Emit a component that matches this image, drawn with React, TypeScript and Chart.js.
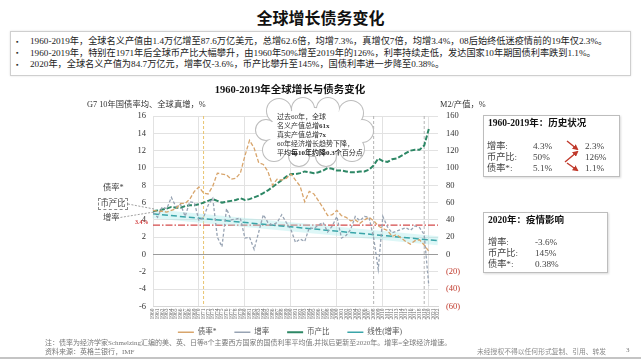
import React, { useEffect, useRef } from 'react';
import { Chart, registerables } from 'chart.js';

Chart.register(...registerables);

// ---------- data ----------
const years = [
  '1960', '1961', '1962', '1963', '1964', '1965', '1966', '1967', '1968', '1969',
  '1970', '1971', '1972', '1973', '1974', '1975', '1976', '1977', '1978', '1979',
  '1980', '1981', '1982', '1983', '1984', '1985', '1986', '1987', '1988', '1989',
  '1990', '1991', '1992', '1993', '1994', '1995', '1996', '1997', '1998', '1999',
  '2000', '2001', '2002', '2003', '2004', '2005', '2006', '2007', '2008', '2009',
  '2010', '2011', '2012', '2013', '2014', '2015', '2016', '2017', '2018', '2019',
  '2020', '2021', '2022',
];

// G7 10-year government bond yield average, %
const bondYield = [
  5.1, 5.0, 5.0, 4.9, 5.1, 5.3, 5.9, 5.9, 6.4, 7.3,
  7.8, 7.1, 7.0, 7.9, 9.4, 9.3, 9.2, 8.7, 8.8, 9.4,
  11.4, 13.2, 12.3, 10.6, 10.4, 9.6, 8.0, 8.7, 8.6, 8.8,
  9.3, 8.6, 7.9, 6.1, 7.3, 7.0, 6.2, 5.4, 4.5, 4.6,
  5.1, 4.5, 4.3, 3.9, 4.0, 3.6, 4.0, 4.3, 3.9, 3.3,
  3.0, 2.8, 2.1, 2.3, 1.9, 1.5, 1.2, 1.6, 1.7, 1.1,
  0.38,
];

// global real GDP growth, %
const growth = [
  4.9, 4.3, 5.5, 5.3, 6.6, 5.5, 5.8, 4.4, 6.1, 6.0,
  3.9, 4.3, 5.7, 6.5, 2.0, 0.9, 5.3, 4.0, 4.1, 4.2,
  1.9, 2.0, 0.6, 2.6, 4.6, 3.7, 3.4, 3.7, 4.6, 3.7,
  2.9, 1.4, 1.8, 1.5, 3.1, 3.0, 3.4, 3.7, 2.6, 3.3,
  4.4, 1.9, 2.2, 2.9, 4.4, 3.9, 4.4, 4.3, 1.9, -1.7,
  4.4, 3.2, 2.5, 2.7, 2.9, 3.1, 2.8, 3.3, 3.1, 2.3,
  -3.6,
];

// M2 / GDP, %
const m2Ratio = [
  50, 51, 52, 53, 55, 54, 54, 56, 57, 57,
  58, 60, 62, 64, 62, 60, 61, 62, 63, 65,
  63, 64, 66, 68, 71, 74, 78, 82, 86, 90,
  93, 93, 94, 96, 95, 94, 95, 97, 100, 99,
  97, 97, 96, 95, 95, 96, 96, 98, 103, 111,
  108, 107, 110, 111, 114, 117, 120, 121, 121, 126,
  145,
];

// linear trend of growth (endpoints)
const growthTrend = [{ x: '1960', y: 4.7 }, { x: '2022', y: 1.6 }];
// 1960-2020 average growth
const growthMean = [{ x: '1960', y: 3.4 }, { x: '2022', y: 3.4 }];

const markerYears = ['1971', '2008', '2019'];
const seriesNames = ['债率*', '增率', '币产比', '线性(增率)'];

const bullets = [
  '1960-2019年，全球名义产值由1.4万亿增至87.6万亿美元，总增62.6倍，均增7.3%，真增仅7倍，均增3.4%，08后始终低迷疫情前的19年仅2.3%。',
  '1960-2019年，特别在1971年后全球币产比大幅攀升，由1960年50%增至2019年的126%，利率持续走低，发达国家10年期国债利率跌到1.1%。',
  '2020年，全球名义产值为84.7万亿元，增率仅-3.6%，币产比攀升至145%，国债利率进一步降至0.38%。',
];

const histRows = [
  ['增率:', '4.3%', '2.3%'],
  ['币产比:', '50%', '126%'],
  ['债率*:', '5.1%', '1.1%'],
];
const covidRows = [
  ['增率:', '-3.6%'],
  ['币产比:', '145%'],
  ['债率*:', '0.38%'],
];

const FONT = "'Liberation Serif', 'Noto Sans CJK SC', serif";

const markerPlugin = {
  id: 'markerLines',
  beforeDatasetsDraw(chart: any) {
    const { ctx, chartArea, scales } = chart;
    markerYears.forEach((yr, i) => {
      const x = scales.x.getPixelForValue(years.indexOf(yr));
      ctx.save();
      ctx.strokeStyle = i === 0 ? '#e9c46f' : '#b4b4b4';
      ctx.lineWidth = 1;
      ctx.setLineDash([3, 2]);
      ctx.beginPath();
      ctx.moveTo(x, chartArea.top);
      ctx.lineTo(x, chartArea.bottom);
      ctx.stroke();
      ctx.restore();
    });
  },
};

function Txt(props: { x: number; y: number; size: number; children: any; style?: any }) {
  const { x, y, size, children, style } = props;
  return (
    <div
      style={{
        position: 'absolute',
        left: x,
        top: y - size * 0.6,
        fontSize: size,
        lineHeight: `${size * 1.2}px`,
        whiteSpace: 'nowrap',
        ...style,
      }}
    >
      {children}
    </div>
  );
}

export default function App() {
  const ref = useRef<HTMLCanvasElement>(null);

  useEffect(() => {
    const chart = new Chart(ref.current as HTMLCanvasElement, {
      type: 'line',
      data: {
        labels: years,
        datasets: [
          {
            label: seriesNames[0],
            data: bondYield,
            yAxisID: 'y',
            borderColor: '#d8a56c',
            borderWidth: 1.3,
            borderDash: [4, 2],
            pointRadius: 0,
            tension: 0,
          },
          {
            label: seriesNames[1],
            data: growth,
            yAxisID: 'y',
            borderColor: '#97a3b3',
            borderWidth: 1.3,
            borderDash: [3, 2],
            pointRadius: 0,
            tension: 0,
          },
          {
            label: seriesNames[2],
            data: m2Ratio,
            yAxisID: 'y2',
            borderColor: '#2d8765',
            borderWidth: 2,
            borderDash: [5, 2],
            pointRadius: 0,
            tension: 0,
          },
          {
            label: seriesNames[3],
            data: growthTrend as any,
            yAxisID: 'y',
            borderColor: '#3aa5a9',
            borderWidth: 1.5,
            borderDash: [6, 3],
            pointRadius: 0,
          },
          {
            label: 'trend-glow',
            data: growthTrend as any,
            yAxisID: 'y',
            borderColor: 'rgba(170,236,236,0.4)',
            borderWidth: 9,
            pointRadius: 0,
          },
          {
            label: 'mean',
            data: growthMean as any,
            yAxisID: 'y',
            borderColor: '#d44a4a',
            borderWidth: 1.2,
            borderDash: [7, 2, 1.5, 2],
            pointRadius: 0,
          },
        ],
      },
      options: {
        animation: false,
        responsive: false,
        devicePixelRatio: 1,
        layout: { padding: { left: 0, right: 0, top: 0, bottom: 0 } },
        scales: {
          x: {
            type: 'category',
            offset: false,
            grid: {
              drawTicks: false,
              color: (c: any) => {
                const lab = years[c.index];
                return lab && lab.endsWith('0') ? '#e2e2e2' : 'rgba(0,0,0,0)';
              },
            },
            border: { color: '#d6d6d6' },
            ticks: {
              autoSkip: false,
              minRotation: 90,
              maxRotation: 90,
              padding: 2,
              color: '#666',
              font: { size: 5.5, family: FONT },
            },
            afterFit: (s: any) => {
              s.height = 19;
            },
          },
          y: {
            position: 'left',
            min: -6,
            max: 16,
            grid: {
              drawTicks: false,
              color: (c: any) => (c.tick && c.tick.value === 0 ? '#9a9a9a' : '#e2e2e2'),
            },
            border: { display: false },
            ticks: {
              stepSize: 2,
              padding: 7,
              color: '#333',
              font: { size: 8.5, family: FONT },
            },
            afterFit: (s: any) => {
              s.width = 73;
            },
          },
          y2: {
            position: 'right',
            min: -60,
            max: 160,
            grid: { display: false, drawTicks: false },
            border: { display: false },
            ticks: {
              stepSize: 20,
              padding: 8,
              font: { size: 8.5, family: FONT },
              color: (c: any) => (c.tick && c.tick.value < 0 ? '#c0392b' : '#333'),
              callback: (v: any) => (Number(v) < 0 ? `(${-Number(v)})` : `${v}`),
            },
            afterFit: (s: any) => {
              s.width = 62;
            },
          },
        },
        plugins: {
          title: {
            display: true,
            text: '1960-2019年全球增长与债务变化',
            color: '#111',
            font: { size: 10.5, weight: 'bold', family: FONT },
            padding: { top: 4, bottom: 19.4 },
          },
          legend: {
            position: 'bottom',
            labels: {
              usePointStyle: true,
              pointStyle: 'line',
              pointStyleWidth: 16,
              padding: 3,
              color: '#555',
              font: { size: 7.5, family: FONT },
              generateLabels: (ch: any) => {
                const base = (Chart.defaults.plugins.legend.labels as any).generateLabels(ch);
                const kept = base.filter((l: any) => l.datasetIndex < seriesNames.length);
                return kept.map((l: any, i: number) => ({
                  ...l,
                  text: i < kept.length - 1 ? l.text + '\u3000\u3000' : l.text,
                }));
              },
            },
          },
          tooltip: { enabled: false },
        },
      },
      plugins: [markerPlugin],
    } as any);
    return () => chart.destroy();
  }, []);

  const cloudBumps = [
    [279, 111, 12],
    [303, 109, 11],
    [328, 109, 11],
    [351, 113, 12],
    [362, 131, 11],
    [352, 149, 12],
    [326, 156, 10],
    [299, 156, 10],
    [274, 150, 11],
    [266, 130, 10],
  ];

  const red = '#c0392b';

  return (
    <div
      style={{
        position: 'fixed',
        left: 0,
        top: 0,
        width: 641,
        height: 360,
        background: '#fff',
        overflow: 'hidden',
        fontFamily: FONT,
        color: '#222',
      }}
    >
      {/* slide title */}
      <div
        style={{
          position: 'absolute',
          left: 0,
          top: 9,
          width: 641,
          textAlign: 'center',
          fontSize: 16,
          lineHeight: '20px',
          fontWeight: 'bold',
          color: '#111',
        }}
      >
        全球增长债务变化
      </div>

      {/* bullets */}
      <div
        style={{
          position: 'absolute',
          left: 10,
          top: 31,
          width: 621,
          height: 45,
          border: '1px solid #cfcfcf',
          boxShadow: '0 0 2px rgba(0,0,0,0.12)',
          boxSizing: 'border-box',
        }}
      />
      {bullets.map((b, i) => (
        <React.Fragment key={i}>
          <Txt x={16} y={42 + i * 11.5} size={7} style={{ color: '#333' }}>
            ▪
          </Txt>
          <Txt x={30} y={42 + i * 11.5} size={9.2} style={{ color: '#222' }}>
            {b}
          </Txt>
        </React.Fragment>
      ))}

      {/* chart */}
      <canvas
        ref={ref}
        width={420}
        height={266}
        style={{ position: 'absolute', left: 80, top: 80, width: 420, height: 266 }}
      />

      {/* axis titles */}
      <Txt x={87} y={105} size={8.3} style={{ color: '#333' }}>
        G7 10年国债率均、全球真增，%
      </Txt>
      <Txt x={440} y={105} size={8.3} style={{ color: '#333' }}>
        M2/产值，%
      </Txt>

      {/* left series labels */}
      <Txt x={103} y={188} size={8.3} style={{ color: '#444' }}>
        债率*
      </Txt>
      <div
        style={{
          position: 'absolute',
          left: 98,
          top: 198,
          width: 30,
          height: 12,
          border: '1px dashed #888',
          boxSizing: 'border-box',
          fontSize: 8.3,
          lineHeight: '10px',
          textAlign: 'center',
          color: '#444',
          background: '#fff',
        }}
      >
        币产比
      </div>
      <Txt x={103} y={218} size={8.3} style={{ color: '#444' }}>
        增率
      </Txt>
      <Txt x={135} y={223} size={6} style={{ color: '#d03a3a', fontWeight: 'bold' }}>
        3.4%
      </Txt>

      <svg
        width={641}
        height={360}
        style={{ position: 'absolute', left: 0, top: 0, pointerEvents: 'none' }}
      >
        <defs>
          <marker
            id="ah"
            markerWidth="6"
            markerHeight="6"
            refX="4"
            refY="3"
            orient="auto"
            markerUnits="userSpaceOnUse"
          >
            <path d="M0,0 L6,3 L0,6 z" fill={red} />
          </marker>
        </defs>
        {/* leader lines */}
        <line x1={128} y1={204} x2={154} y2={209} stroke="#8a8a8a" strokeWidth={0.8} strokeDasharray="2,1.5" />
        <line x1={117} y1={218} x2={154} y2={212} stroke="#8a8a8a" strokeWidth={0.8} strokeDasharray="2,1.5" />

        {/* cloud */}
        <g>
          {cloudBumps.map(([cx, cy, r], i) => (
            <circle key={'s' + i} cx={cx} cy={cy} r={r} fill="#fff" stroke="#bcbcbc" strokeWidth={2} />
          ))}
          <ellipse cx={314} cy={132} rx={46} ry={24} fill="#fff" stroke="#bcbcbc" strokeWidth={2} />
          {cloudBumps.map(([cx, cy, r], i) => (
            <circle key={'f' + i} cx={cx} cy={cy} r={r} fill="#fff" />
          ))}
          <ellipse cx={314} cy={132} rx={46} ry={24} fill="#fff" />
        </g>

        {/* arrows in history box */}
        <line x1={567} y1={141} x2={577} y2={149} stroke={red} strokeWidth={1.4} markerEnd="url(#ah)" />
        <line x1={565} y1={162} x2={577} y2={152} stroke={red} strokeWidth={1.4} markerEnd="url(#ah)" />
        <line x1={567} y1={163} x2={577} y2={170} stroke={red} strokeWidth={1.4} markerEnd="url(#ah)" />
      </svg>

      {/* cloud text */}
      <Txt x={277} y={117} size={7} style={{ color: '#333' }}>
        过去60年，全球
      </Txt>
      <Txt x={277} y={126} size={7} style={{ color: '#333' }}>
        名义产值总增<b>61x</b>
      </Txt>
      <Txt x={277} y={135} size={7} style={{ color: '#333' }}>
        真实产值总增<b>7x</b>
      </Txt>
      <Txt x={277} y={144} size={7} style={{ color: '#333' }}>
        60年经济增长趋势下降，
      </Txt>
      <Txt x={277} y={153} size={7} style={{ color: '#222' }}>
        平均<b>每10年约降0.3个</b>百分点
      </Txt>

      {/* history box */}
      <div
        style={{
          position: 'absolute',
          left: 483,
          top: 115,
          width: 137,
          height: 62,
          border: '1px solid #bdbdbd',
          boxShadow: '1px 1px 2px rgba(0,0,0,0.15)',
          boxSizing: 'border-box',
        }}
      />
      <Txt x={488} y={124} size={9.5} style={{ fontWeight: 'bold', color: '#111' }}>
        1960-2019年：历史状况
      </Txt>
      {histRows.map((r, i) => (
        <React.Fragment key={i}>
          <Txt x={487} y={147 + i * 11} size={9.2} style={{ color: '#444' }}>
            {r[0]}
          </Txt>
          <Txt x={533} y={147 + i * 11} size={9.2} style={{ color: '#444' }}>
            {r[1]}
          </Txt>
          <Txt x={585} y={147 + i * 11} size={9.2} style={{ color: '#444' }}>
            {r[2]}
          </Txt>
        </React.Fragment>
      ))}

      {/* 2020 box */}
      <div
        style={{
          position: 'absolute',
          left: 483,
          top: 212,
          width: 125,
          height: 61,
          border: '1px solid #bdbdbd',
          boxShadow: '1px 1px 2px rgba(0,0,0,0.15)',
          boxSizing: 'border-box',
        }}
      />
      <Txt x={488} y={221} size={9.5} style={{ fontWeight: 'bold', color: '#111' }}>
        2020年：疫情影响
      </Txt>
      {covidRows.map((r, i) => (
        <React.Fragment key={i}>
          <Txt x={488} y={243 + i * 11} size={9.2} style={{ color: '#444' }}>
            {r[0]}
          </Txt>
          <Txt x={535} y={243 + i * 11} size={9.2} style={{ color: '#444' }}>
            {r[1]}
          </Txt>
        </React.Fragment>
      ))}

      {/* footer */}
      <Txt x={45} y={343} size={7} style={{ color: '#777' }}>
        注：债率为经济学家Schmelzing汇编的美、英、日等8个主要西方国家的国债利率平均值,并拟后更新至2020年。增率=全球经济增速。
      </Txt>
      <Txt x={45} y={352} size={7} style={{ color: '#777' }}>
        资料来源：英格兰银行，IMF
      </Txt>
      <Txt x={477} y={352} size={6.8} style={{ color: '#8a8a8a' }}>
        未经授权不得以任何形式复制、引用、转发
      </Txt>
      <Txt x={626} y={350} size={7} style={{ color: '#777' }}>
        3
      </Txt>
      <div
        style={{
          position: 'absolute',
          left: 0,
          top: 357,
          width: 641,
          height: 2,
          background: '#c4c4c4',
        }}
      />
    </div>
  );
}
